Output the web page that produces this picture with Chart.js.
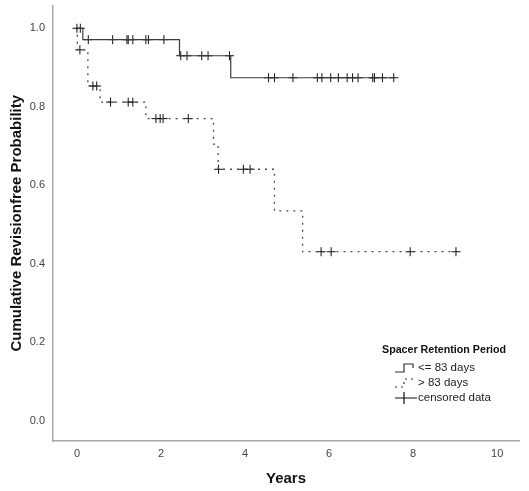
<!DOCTYPE html>
<html>
<head>
<meta charset="utf-8">
<script src="https://cdn.jsdelivr.net/npm/chart.js@4"></script>
<style>
  html, body { margin: 0; padding: 0; background: #fff; }
  #wrap { width: 529px; height: 491px; position: relative; }
</style>
</head>
<body>
<div id="wrap"><canvas id="km"></canvas></div>
<script>
// Kaplan-Meier: tiempos de evento y supervivencia por grupo
const groupLabels = ['<= 83 days', '> 83 days'];

const shortTimes = [0, 0.14, 2.44, 3.66, 7.54];
const shortSurv  = [1, 0.971, 0.93, 0.874, 0.874];
const shortCensored = [0, 0.08, 0.27, 0.85, 1.19, 1.22, 1.33, 1.64, 1.70, 2.07,
  2.47, 2.62, 2.97, 3.12, 3.63, 4.56, 4.70, 5.14, 5.72, 5.83, 6.04, 6.22, 6.43,
  6.56, 6.69, 7.04, 7.08, 7.27, 7.54];

const longTimes = [0, 0.01, 0.26, 0.55, 1.64, 3.25, 3.36, 4.70, 5.37, 9.02];
const longSurv  = [1, 0.945, 0.853, 0.812, 0.770, 0.705, 0.641, 0.535, 0.431, 0.431];
const longCensored = [0.07, 0.38, 0.47, 0.80, 1.22, 1.33, 1.88, 1.98, 2.05, 2.65,
  3.37, 3.96, 4.12, 5.81, 6.05, 7.93, 9.02];

const xTicks = [0, 2, 4, 6, 8, 10];
const yTicks = [0, 0.2, 0.4, 0.6, 0.8, 1.0];

const fontFam = '"Liberation Sans", Arial, sans-serif';

// valor de la curva escalonada en el tiempo t
function survAt(times, surv, t) {
  let v = surv[0];
  for (let i = 0; i < times.length; i++) {
    if (times[i] <= t) v = surv[i];
  }
  return v;
}

function curva(times, surv) {
  return times.map((t, i) => ({ x: t, y: surv[i] }));
}

function censuras(times, surv, cens) {
  return cens.map(t => ({ x: t, y: survAt(times, surv, t) }));
}

// Leyenda dibujada dentro del área del gráfico
const leyendaPlugin = {
  id: 'leyenda',
  afterDraw(chart) {
    const ctx = chart.ctx;
    ctx.save();
    ctx.fillStyle = '#111';
    ctx.textBaseline = 'middle';
    ctx.font = 'bold 10.7px ' + fontFam;
    ctx.fillText('Spacer Retention Period', 382, 350);

    ctx.font = '11.5px ' + fontFam;
    ctx.fillStyle = '#222';
    const filas = [368, 383, 398];
    ctx.fillText(groupLabels[0], 418, filas[0]);
    ctx.fillText(groupLabels[1], 418, filas[1]);
    ctx.fillText('censored data', 418, filas[2]);

    ctx.lineWidth = 1.2;
    ctx.strokeStyle = '#333';
    // icono línea continua
    ctx.beginPath();
    ctx.moveTo(395, filas[0] + 4);
    ctx.lineTo(404, filas[0] + 4);
    ctx.lineTo(404, filas[0] - 4);
    ctx.lineTo(413, filas[0] - 4);
    ctx.lineTo(413, filas[0]);
    ctx.stroke();
    // icono línea punteada
    ctx.setLineDash([2, 4]);
    ctx.beginPath();
    ctx.moveTo(395, filas[1] + 4);
    ctx.lineTo(404, filas[1] + 4);
    ctx.lineTo(404, filas[1] - 4);
    ctx.lineTo(413, filas[1] - 4);
    ctx.lineTo(413, filas[1]);
    ctx.stroke();
    ctx.setLineDash([]);
    // icono censurado
    ctx.strokeStyle = '#111';
    ctx.beginPath();
    ctx.moveTo(395, filas[2]);
    ctx.lineTo(417, filas[2]);
    ctx.moveTo(404, filas[2] - 6);
    ctx.lineTo(404, filas[2] + 6);
    ctx.stroke();
    ctx.restore();
  }
};

const ctx = document.getElementById('km').getContext('2d');
new Chart(ctx, {
  type: 'line',
  data: {
    datasets: [
      {
        label: groupLabels[0],
        data: curva(shortTimes, shortSurv),
        stepped: 'before',
        borderColor: '#3c3c3c',
        borderWidth: 1.2,
        pointRadius: 0,
        fill: false
      },
      {
        label: groupLabels[1],
        data: curva(longTimes, longSurv),
        stepped: 'before',
        borderColor: '#4a4a4a',
        borderWidth: 1.3,
        borderDash: [2, 5],
        pointRadius: 0,
        fill: false
      },
      {
        label: 'censored short',
        data: censuras(shortTimes, shortSurv, shortCensored),
        showLine: false,
        pointStyle: 'cross',
        pointRadius: 4.5,
        borderColor: '#111',
        borderWidth: 1
      },
      {
        label: 'censored long',
        data: censuras(longTimes, longSurv, longCensored),
        showLine: false,
        pointStyle: 'cross',
        pointRadius: 4.5,
        borderColor: '#111',
        borderWidth: 1
      }
    ]
  },
  options: {
    responsive: true,
    maintainAspectRatio: false,
    animation: false,
    layout: { padding: { top: 5, right: 10, left: 0, bottom: 0 } },
    plugins: {
      legend: { display: false },
      tooltip: { enabled: false }
    },
    scales: {
      x: {
        type: 'linear',
        min: -0.57,
        max: 10.52,
        afterBuildTicks: s => { s.ticks = xTicks.map(v => ({ value: v })); },
        afterFit: s => { s.height = 50; s.paddingLeft = 0; s.paddingRight = 0; },
        grid: { display: false, drawTicks: false },
        border: { color: '#a9a9a9', width: 1.5 },
        ticks: {
          color: '#444',
          font: { family: fontFam, size: 11 },
          padding: 6,
          maxRotation: 0,
          callback: v => v
        },
        title: {
          display: true,
          text: 'Years',
          color: '#111',
          font: { family: fontFam, size: 15, weight: 'bold' },
          padding: { top: 4, bottom: 3 }
        }
      },
      y: {
        type: 'linear',
        min: -0.051,
        max: 1.058,
        afterBuildTicks: s => { s.ticks = yTicks.map(v => ({ value: v })); },
        afterFit: s => { s.width = 53; s.paddingTop = 0; s.paddingBottom = 0; },
        grid: { display: false, drawTicks: false },
        border: { color: '#a9a9a9', width: 1.5 },
        ticks: {
          color: '#444',
          font: { family: fontFam, size: 11 },
          padding: 8,
          callback: v => v.toFixed(1)
        },
        title: {
          display: true,
          text: 'Cumulative Revisionfree Probability',
          color: '#111',
          font: { family: fontFam, size: 15, weight: 'bold' },
          padding: { top: 8, bottom: 4 }
        }
      }
    }
  },
  plugins: [leyendaPlugin]
});
</script>
</body>
</html>
